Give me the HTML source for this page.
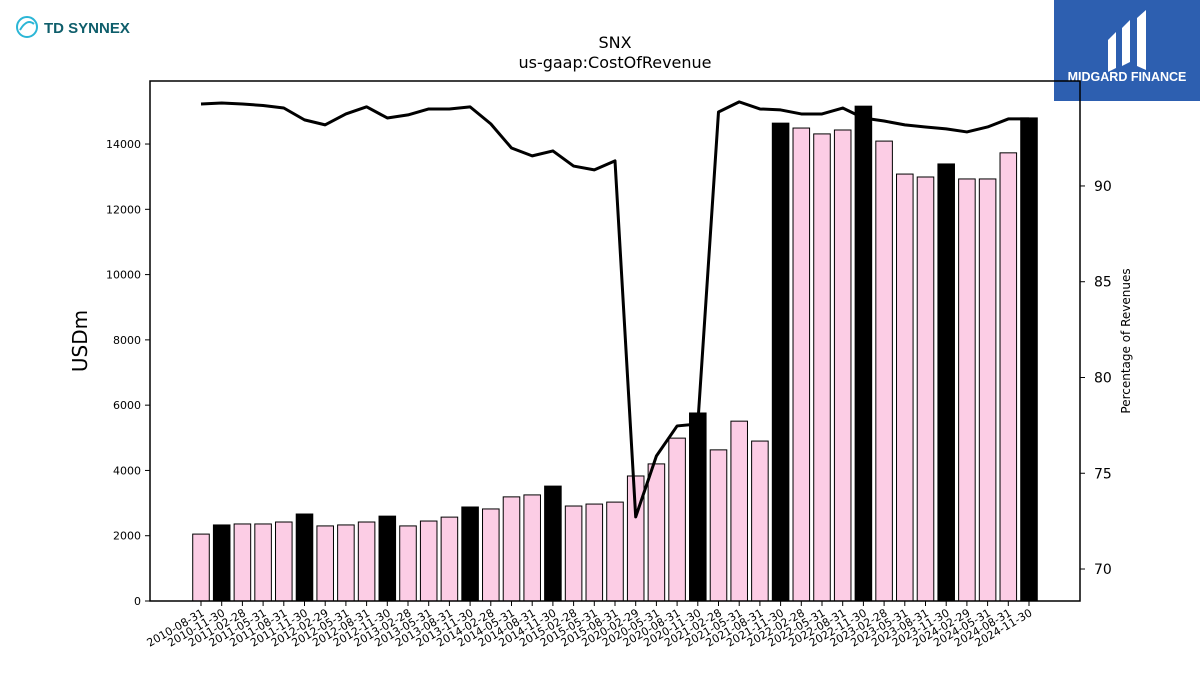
<!DOCTYPE html>
<html><head><meta charset="utf-8"><style>
body{margin:0;background:#fff;font-family:"Liberation Sans","DejaVu Sans",sans-serif;}
#wrap{position:relative;width:1200px;height:675px;overflow:hidden;}
</style></head><body><div id="wrap">
<svg id="chart" width="1200" height="675" xmlns="http://www.w3.org/2000/svg" font-family="DejaVu Sans, Liberation Sans, sans-serif">
<g>
<circle cx="27" cy="27" r="10" fill="none" stroke="#2bb6d6" stroke-width="2"/>
<path d="M20 30 Q27 18 34 24" fill="none" stroke="#2bb6d6" stroke-width="2"/>
<text x="44" y="33" font-size="15" font-weight="bold" fill="#0e5e6b" font-family="Liberation Sans, sans-serif">TD SYNNEX</text>
</g>
<g>
<rect x="1054" y="0" width="146" height="101" fill="#2d5fb0"/>
<path d="M1108 40 L1116 32 L1116 68 L1108 72 Z M1122 28 L1130 20 L1130 62 L1122 66 Z M1137 18 L1146 10 L1146 70 L1137 66 Z" fill="#fff"/>
<text x="1127" y="81" font-size="12.5" font-weight="bold" fill="#fff" text-anchor="middle" font-family="Liberation Sans, sans-serif">MIDGARD FINANCE</text>
</g>
<text x="615" y="48" font-size="16" text-anchor="middle">SNX</text>
<text x="615" y="68" font-size="16" text-anchor="middle">us-gaap:CostOfRevenue</text>
<g id="bars"></g><g id="line"></g><g id="axes"></g>
<rect x="150" y="81" width="930" height="520" fill="none" stroke="#000" stroke-width="1.5"/>
<text transform="translate(87,341) rotate(-90)" font-size="20" text-anchor="middle">USDm</text>
<text transform="translate(1130,341) rotate(-90)" font-size="12" text-anchor="middle">Percentage of Revenues</text>
</svg>
<script>
const categories=["2010-08-31","2010-11-30","2011-02-28","2011-05-31","2011-08-31","2011-11-30","2012-02-29","2012-05-31","2012-08-31","2012-11-30","2013-02-28","2013-05-31","2013-08-31","2013-11-30","2014-02-28","2014-05-31","2014-08-31","2014-11-30","2015-02-28","2015-05-31","2015-08-31","2020-02-29","2020-05-31","2020-08-31","2020-11-30","2021-02-28","2021-05-31","2021-08-31","2021-11-30","2022-02-28","2022-05-31","2022-08-31","2022-11-30","2023-02-28","2023-05-31","2023-08-31","2023-11-30","2024-02-29","2024-05-31","2024-08-31","2024-11-30"];
const costValues=[2050,2330,2360,2360,2420,2665,2300,2330,2420,2600,2300,2450,2570,2880,2820,3190,3250,3520,2910,2970,3030,3830,4200,4990,5760,4630,5510,4900,14640,14490,14310,14430,15160,14090,13080,12990,13390,12930,12930,13730,14800];
const pctValues=[94.28,94.33,94.28,94.2,94.07,93.45,93.19,93.76,94.13,93.55,93.71,94.02,94.02,94.13,93.24,91.98,91.57,91.83,91.04,90.84,91.31,72.72,75.9,77.47,77.57,93.86,94.39,94.02,93.97,93.76,93.76,94.07,93.55,93.39,93.19,93.08,92.98,92.82,93.08,93.5,93.5];
const leftTicks=[0,2000,4000,6000,8000,10000,12000,14000];
const rightTicks=[70,75,80,85,90];
const NS="http://www.w3.org/2000/svg";
const X0=150,X1=1080,Y0=81,Y1=601;
const LMAX=15931, RMIN=68.33, RMAX=95.48;
const step=(1029-201)/(categories.length-1);
const xs=i=>201+i*step;
const yl=v=>Y1-v/LMAX*(Y1-Y0);
const yr=v=>Y1-(v-RMIN)/(RMAX-RMIN)*(Y1-Y0);
function mk(t,a,p){const e=document.createElementNS(NS,t);for(const k in a)e.setAttribute(k,a[k]);p.appendChild(e);return e;}
const bars=document.getElementById('bars'),axes=document.getElementById('axes'),line=document.getElementById('line');
const bw=step*0.8;
categories.forEach((c,i)=>{
  const black=c.endsWith("-11-30");
  const r=mk('rect',{x:xs(i)-bw/2,y:yl(costValues[i]),width:bw,height:Y1-yl(costValues[i]),fill:black?'#000':'#fccde5',stroke:'#000','stroke-width':1},bars);
  
  
  mk('line',{x1:xs(i),x2:xs(i),y1:Y1,y2:Y1+5,stroke:'#000'},axes);
  const t=mk('text',{x:xs(i)+4,y:Y1+14,'font-size':11,'text-anchor':'end',transform:`rotate(-30 ${xs(i)+4} ${Y1+14})`},axes);
  t.textContent=c;
  
  
});
leftTicks.forEach(v=>{
  mk('line',{x1:X0-5,x2:X0,y1:yl(v),y2:yl(v),stroke:'#000'},axes);
  const t=mk('text',{x:X0-9,y:yl(v)+4,'font-size':11,'text-anchor':'end'},axes);
  t.textContent=v;
  
  
});
rightTicks.forEach(v=>{
  mk('line',{x1:X1,x2:X1+5,y1:yr(v),y2:yr(v),stroke:'#000'},axes);
  const t=mk('text',{x:X1+14,y:yr(v)+5,'font-size':14},axes);
  t.textContent=v;
  
  
});
const pl=mk('polyline',{points:pctValues.map((v,i)=>xs(i)+','+yr(v)).join(' '),fill:'none',stroke:'#000','stroke-width':3,'stroke-linejoin':'round'},line);


</script>
</div></body></html>
